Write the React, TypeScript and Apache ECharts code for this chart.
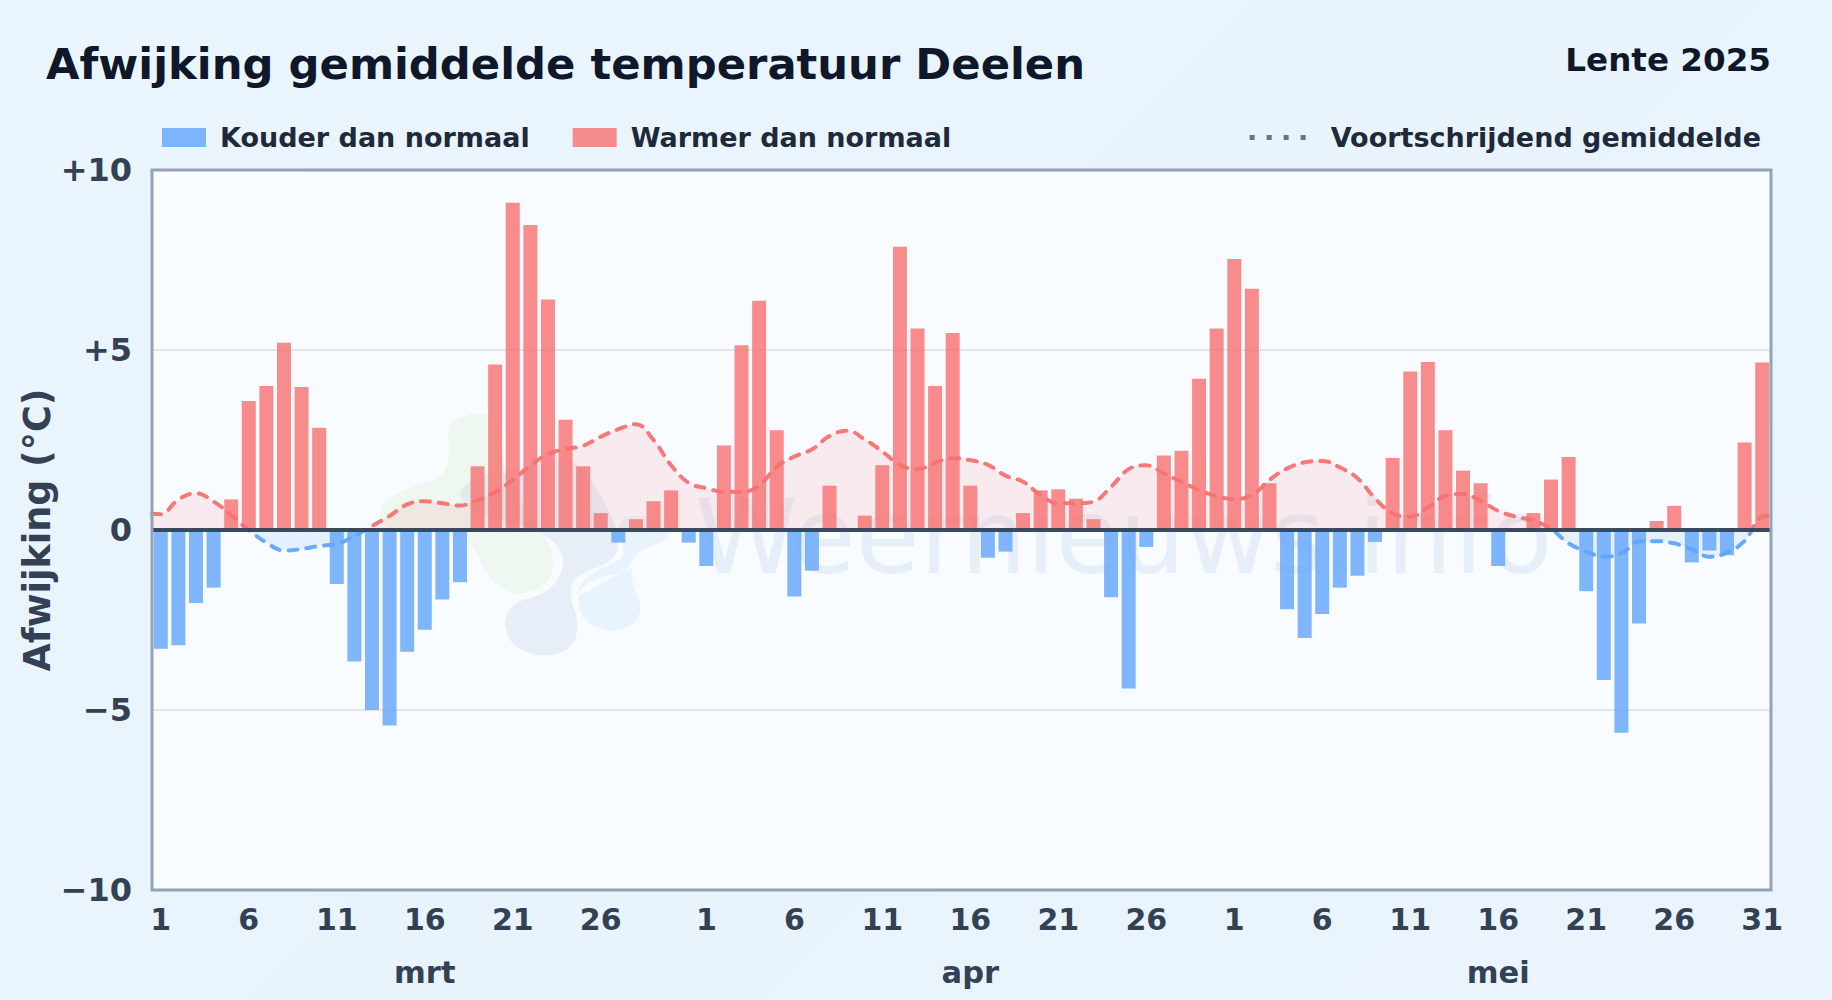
import React, { useEffect, useRef } from "react";
import * as echarts from "echarts";

const dayLabels = [
  ...Array.from({ length: 31 }, (_, i) => String(i + 1)),
  ...Array.from({ length: 30 }, (_, i) => String(i + 1)),
  ...Array.from({ length: 31 }, (_, i) => String(i + 1)),
];
const shownDays = [0, 5, 10, 15, 20, 25, 31, 36, 41, 46, 51, 56, 61, 66, 71, 76, 81, 86, 91];
const monthAxis: Record<number, string> = { 15: "mrt", 46: "apr", 76: "mei" };

const marchValues = [-3.3, -3.2, -2.03, -1.6, 0.85, 3.58, 4.0, 5.2, 3.97, 2.84, -1.5, -3.65, -5.0, -5.43, -3.38, -2.77, -1.93, -1.45, 1.77, 4.6, 9.09, 8.47, 6.4, 3.06, 1.77, 0.47, -0.35, 0.3, 0.8, 1.1, -0.35];
const aprilValues = [-1.0, 2.35, 5.13, 6.37, 2.77, -1.85, -1.13, 1.23, 0, 0.4, 1.8, 7.87, 5.6, 4.0, 5.47, 1.23, -0.77, -0.6, 0.47, 1.1, 1.13, 0.87, 0.3, -1.87, -4.4, -0.47, 2.07, 2.2, 4.2, 5.6];
const mayValues = [7.53, 6.7, 1.3, -2.2, -3.0, -2.33, -1.6, -1.27, -0.33, 2.0, 4.4, 4.67, 2.77, 1.65, 1.3, -1.0, -0.05, 0.47, 1.4, 2.03, -1.7, -4.17, -5.63, -2.6, 0.25, 0.67, -0.9, -0.57, -0.7, 2.43, 4.65];
const anomalies = [...marchValues, ...aprilValues, ...mayValues];
const warm = anomalies.map((v) => (v > 0 ? v : null));
const cold = anomalies.map((v) => (v < 0 ? v : null));

const movingAverage = [
  0.44, 0.85, 1.02, 0.79, 0.42, 0.0, -0.35, -0.57, -0.53, -0.44, -0.39, -0.17, 0.11, 0.39, 0.71, 0.8, 0.74, 0.68, 0.83, 1.06, 1.39, 1.79, 2.11, 2.25, 2.34, 2.59, 2.8, 2.94,
  2.5, 1.8, 1.31, 1.16, 1.06, 1.06, 1.23, 1.76, 2.04, 2.24, 2.61, 2.76, 2.52, 2.18, 1.81, 1.69, 1.87, 2.0, 1.94, 1.81, 1.51, 1.34, 0.97, 0.74, 0.74, 0.79, 1.2, 1.69, 1.8,
  1.57, 1.34, 1.11, 0.94, 0.86, 0.97, 1.39, 1.71, 1.88, 1.92, 1.74, 1.44, 0.88, 0.46, 0.37, 0.63, 0.95, 1.0, 0.81, 0.53, 0.37, 0.26, 0.03, -0.37, -0.6, -0.74, -0.65, -0.32,
  -0.31, -0.37, -0.54, -0.74, -0.63, -0.3, 0.37,
];
const movingStart = 0.45;
const movingEnd = 0.4;

const TITLE = "Afwijking gemiddelde temperatuur Deelen";
const SUBTITLE = "Lente 2025";
const COLD_NAME = "Kouder dan normaal";
const WARM_NAME = "Warmer dan normaal";
const AVG_NAME = "Voortschrijdend gemiddelde";
const Y_NAME = "Afwijking (°C)";
const WATERMARK = "Weernieuws.info";
const FONT = "DejaVu Sans";

echarts.graphic.registerShape(
  "wmGreen",
  echarts.graphic.extendPath(
    "M60 360C70 310 180 290 230 265C270 240 270 190 265 130C265 85 320 70 370 72C420 75 430 160 430 230C440 320 580 420 580 520C580 580 530 610 470 610C400 605 370 530 340 470C300 420 100 440 60 400Z",
    {}
  )
);
echarts.graphic.registerShape(
  "wmGray",
  echarts.graphic.extendPath(
    "M300 310C320 260 390 250 470 240C560 210 640 190 690 260C730 330 775 400 775 470C770 510 730 530 690 540C640 560 620 590 640 650C660 700 660 750 620 780C570 810 490 800 450 750C420 700 440 650 490 630C560 615 610 580 610 510C600 450 540 420 460 400C390 380 310 370 300 310Z",
    {}
  )
);
echarts.graphic.registerShape(
  "wmBlue",
  echarts.graphic.extendPath(
    "M655 620C660 580 720 560 780 550C815 535 815 500 840 485C880 465 925 460 930 420C930 390 830 360 790 390C760 410 800 470 790 500C760 530 650 550 655 620C650 670 690 722 760 722C820 720 850 680 840 640C825 590 805 560 820 530",
    {}
  )
);

const zeroGradient = () =>
  new echarts.graphic.LinearGradient(
    0, 0, 0, 1000,
    [
      { offset: 0, color: "#f87171" },
      { offset: 0.53, color: "#f87171" },
      { offset: 0.53, color: "#60a5fa" },
      { offset: 1, color: "#60a5fa" },
    ],
    true
  );

export default function App() {
  const ref = useRef<HTMLDivElement>(null);
  useEffect(() => {
    document.body.style.margin = "0";
    const chart = echarts.init(ref.current!, undefined, { renderer: "svg" });
    const fontBase = { fontFamily: FONT, fontWeight: "bold" as const };
    chart.setOption({
      animation: false,
      textStyle: { fontFamily: FONT },
      title: [
        { text: TITLE, left: 41, top: 37, textStyle: { ...fontBase, fontSize: 43.3, color: "#0f172a" } },
        { text: SUBTITLE, right: 56, top: 38, textStyle: { ...fontBase, fontSize: 32.6, color: "#0f172a" } },
      ],
      legend: [
        {
          left: 157, top: 119, itemWidth: 44, itemHeight: 19, itemGap: 43, icon: "rect",
          data: [COLD_NAME, WARM_NAME],
          selectedMode: false,
          textStyle: { ...fontBase, fontSize: 27, color: "#1e293b", padding: [0, 0, 0, 9] },
        },
        {
          right: 66, top: 119, itemWidth: 56, itemHeight: 5,
          data: [{ name: AVG_NAME, icon: "path://M0 0h5v5h-5zM17 0h5v5h-5zM34 0h5v5h-5zM51 0h5v5h-5z", itemStyle: { color: "#64748b", opacity: 1 }, lineStyle: { opacity: 0 } }],
          selectedMode: false,
          textStyle: { ...fontBase, fontSize: 27, color: "#1e293b", padding: [0, 0, 0, 20] },
        },
      ],
      grid: { left: 152, right: 61, top: 170, bottom: 110, containLabel: false },
      xAxis: [
        {
          type: "category",
          data: dayLabels,
          boundaryGap: true,
          position: "bottom",
          axisLine: { show: false },
          axisTick: { show: false },
          splitLine: { show: false },
          axisLabel: {
            interval: (i: number) => shownDays.includes(i),
            margin: 14,
            color: "#334155",
            ...fontBase,
            fontSize: 30,
            hideOverlap: false,
          },
        },
        { type: "value", min: 0, max: 92, show: false },
        {
          type: "category",
          data: dayLabels.map((_, i) => monthAxis[i] ?? "-"),
          position: "bottom",
          offset: 53,
          axisLine: { show: false },
          axisTick: { show: false },
          splitLine: { show: false },
          axisLabel: {
            interval: (i: number) => monthAxis[i] !== undefined,
            margin: 14,
            color: "#334155",
            ...fontBase,
            fontSize: 30.5,
            hideOverlap: false,
          },
        },
      ],
      yAxis: {
        type: "value",
        min: -10,
        max: 10,
        interval: 5,
        name: Y_NAME,
        nameLocation: "middle",
        nameGap: 96,
        nameMoveOverlap: false,
        nameRotate: 90,
        nameTextStyle: { ...fontBase, fontSize: 36.5, color: "#334155" },
        axisLine: { show: false },
        axisTick: { show: false },
        axisLabel: {
          margin: 20,
          color: "#334155",
          ...fontBase,
          fontSize: 32,
          formatter: (v: number) => (v > 0 ? `+${v}` : v < 0 ? `\u2212${-v}` : "0"),
        },
        splitLine: { show: true, lineStyle: { color: "#e2e6ea", width: 2 } },
      },
      series: [
        {
          name: COLD_NAME,
          type: "bar",
          stack: "dev",
          data: cold,
          barWidth: 14,
          z: 2,
          itemStyle: { color: "#60a5fa", opacity: 0.8 },
        },
        {
          name: WARM_NAME,
          type: "bar",
          stack: "dev",
          data: warm,
          barWidth: 14,
          z: 2,
          itemStyle: { color: "#f87171", opacity: 0.8 },
          markLine: {
            silent: true,
            symbol: "none",
            z: 6,
            label: { show: false },
            lineStyle: { color: "#334155", width: 4, type: "solid", opacity: 0.95 },
            data: [{ yAxis: 0 }],
          },
        },
        {
          name: AVG_NAME,
          type: "line",
          xAxisIndex: 1,
          z: 4,
          smooth: 0.4,
          showSymbol: false,
          symbol: "none",
          data: [
            [0, movingStart],
            ...movingAverage.map((v, i) => [i + 0.5, v]),
            [92, movingEnd],
          ],
          lineStyle: { width: 4, type: [9, 9], cap: "round", opacity: 0.95, color: zeroGradient() },
          areaStyle: { opacity: 0.12, color: zeroGradient() },
        },
      ],
      graphic: [
        { type: "rect", z: -5, shape: { x: 152, y: 170, width: 1619, height: 720 }, style: { fill: "#f8fbff" } },
        { type: "wmGreen", z: -4, x: 360, y: 390, scaleX: 1 / 3, scaleY: 1 / 3, style: { fill: "#a3d977", opacity: 0.1 } },
        { type: "wmGray", z: -4, x: 360, y: 390, scaleX: 1 / 3, scaleY: 1 / 3, style: { fill: "#7fa3cf", opacity: 0.14 } },
        { type: "wmBlue", z: -4, x: 360, y: 390, scaleX: 1 / 3, scaleY: 1 / 3, style: { fill: "#7cc0f5", opacity: 0.13 } },
        {
          type: "text",
          z: -4,
          x: 695,
          y: 589,
          style: { text: WATERMARK, font: `104px "${FONT}"`, fill: "#5b8fc7", opacity: 0.11, verticalAlign: "bottom" },
        },
        { type: "rect", z: 8, silent: true, shape: { x: 152, y: 170, width: 1619, height: 720 }, style: { fill: "none", stroke: "#94a3b8", lineWidth: 3 } },
      ],
    });
    return () => chart.dispose();
  }, []);
  return (
    <div
      style={{
        position: "fixed", left: 0, top: 0, width: 1832, height: 1000,
        background: "linear-gradient(135deg,#ebf5fe 0%,#e8f3fc 50%,#ebf4fd 100%)",
      }}
    >
      <div ref={ref} style={{ width: 1832, height: 1000 }} />
    </div>
  );
}
